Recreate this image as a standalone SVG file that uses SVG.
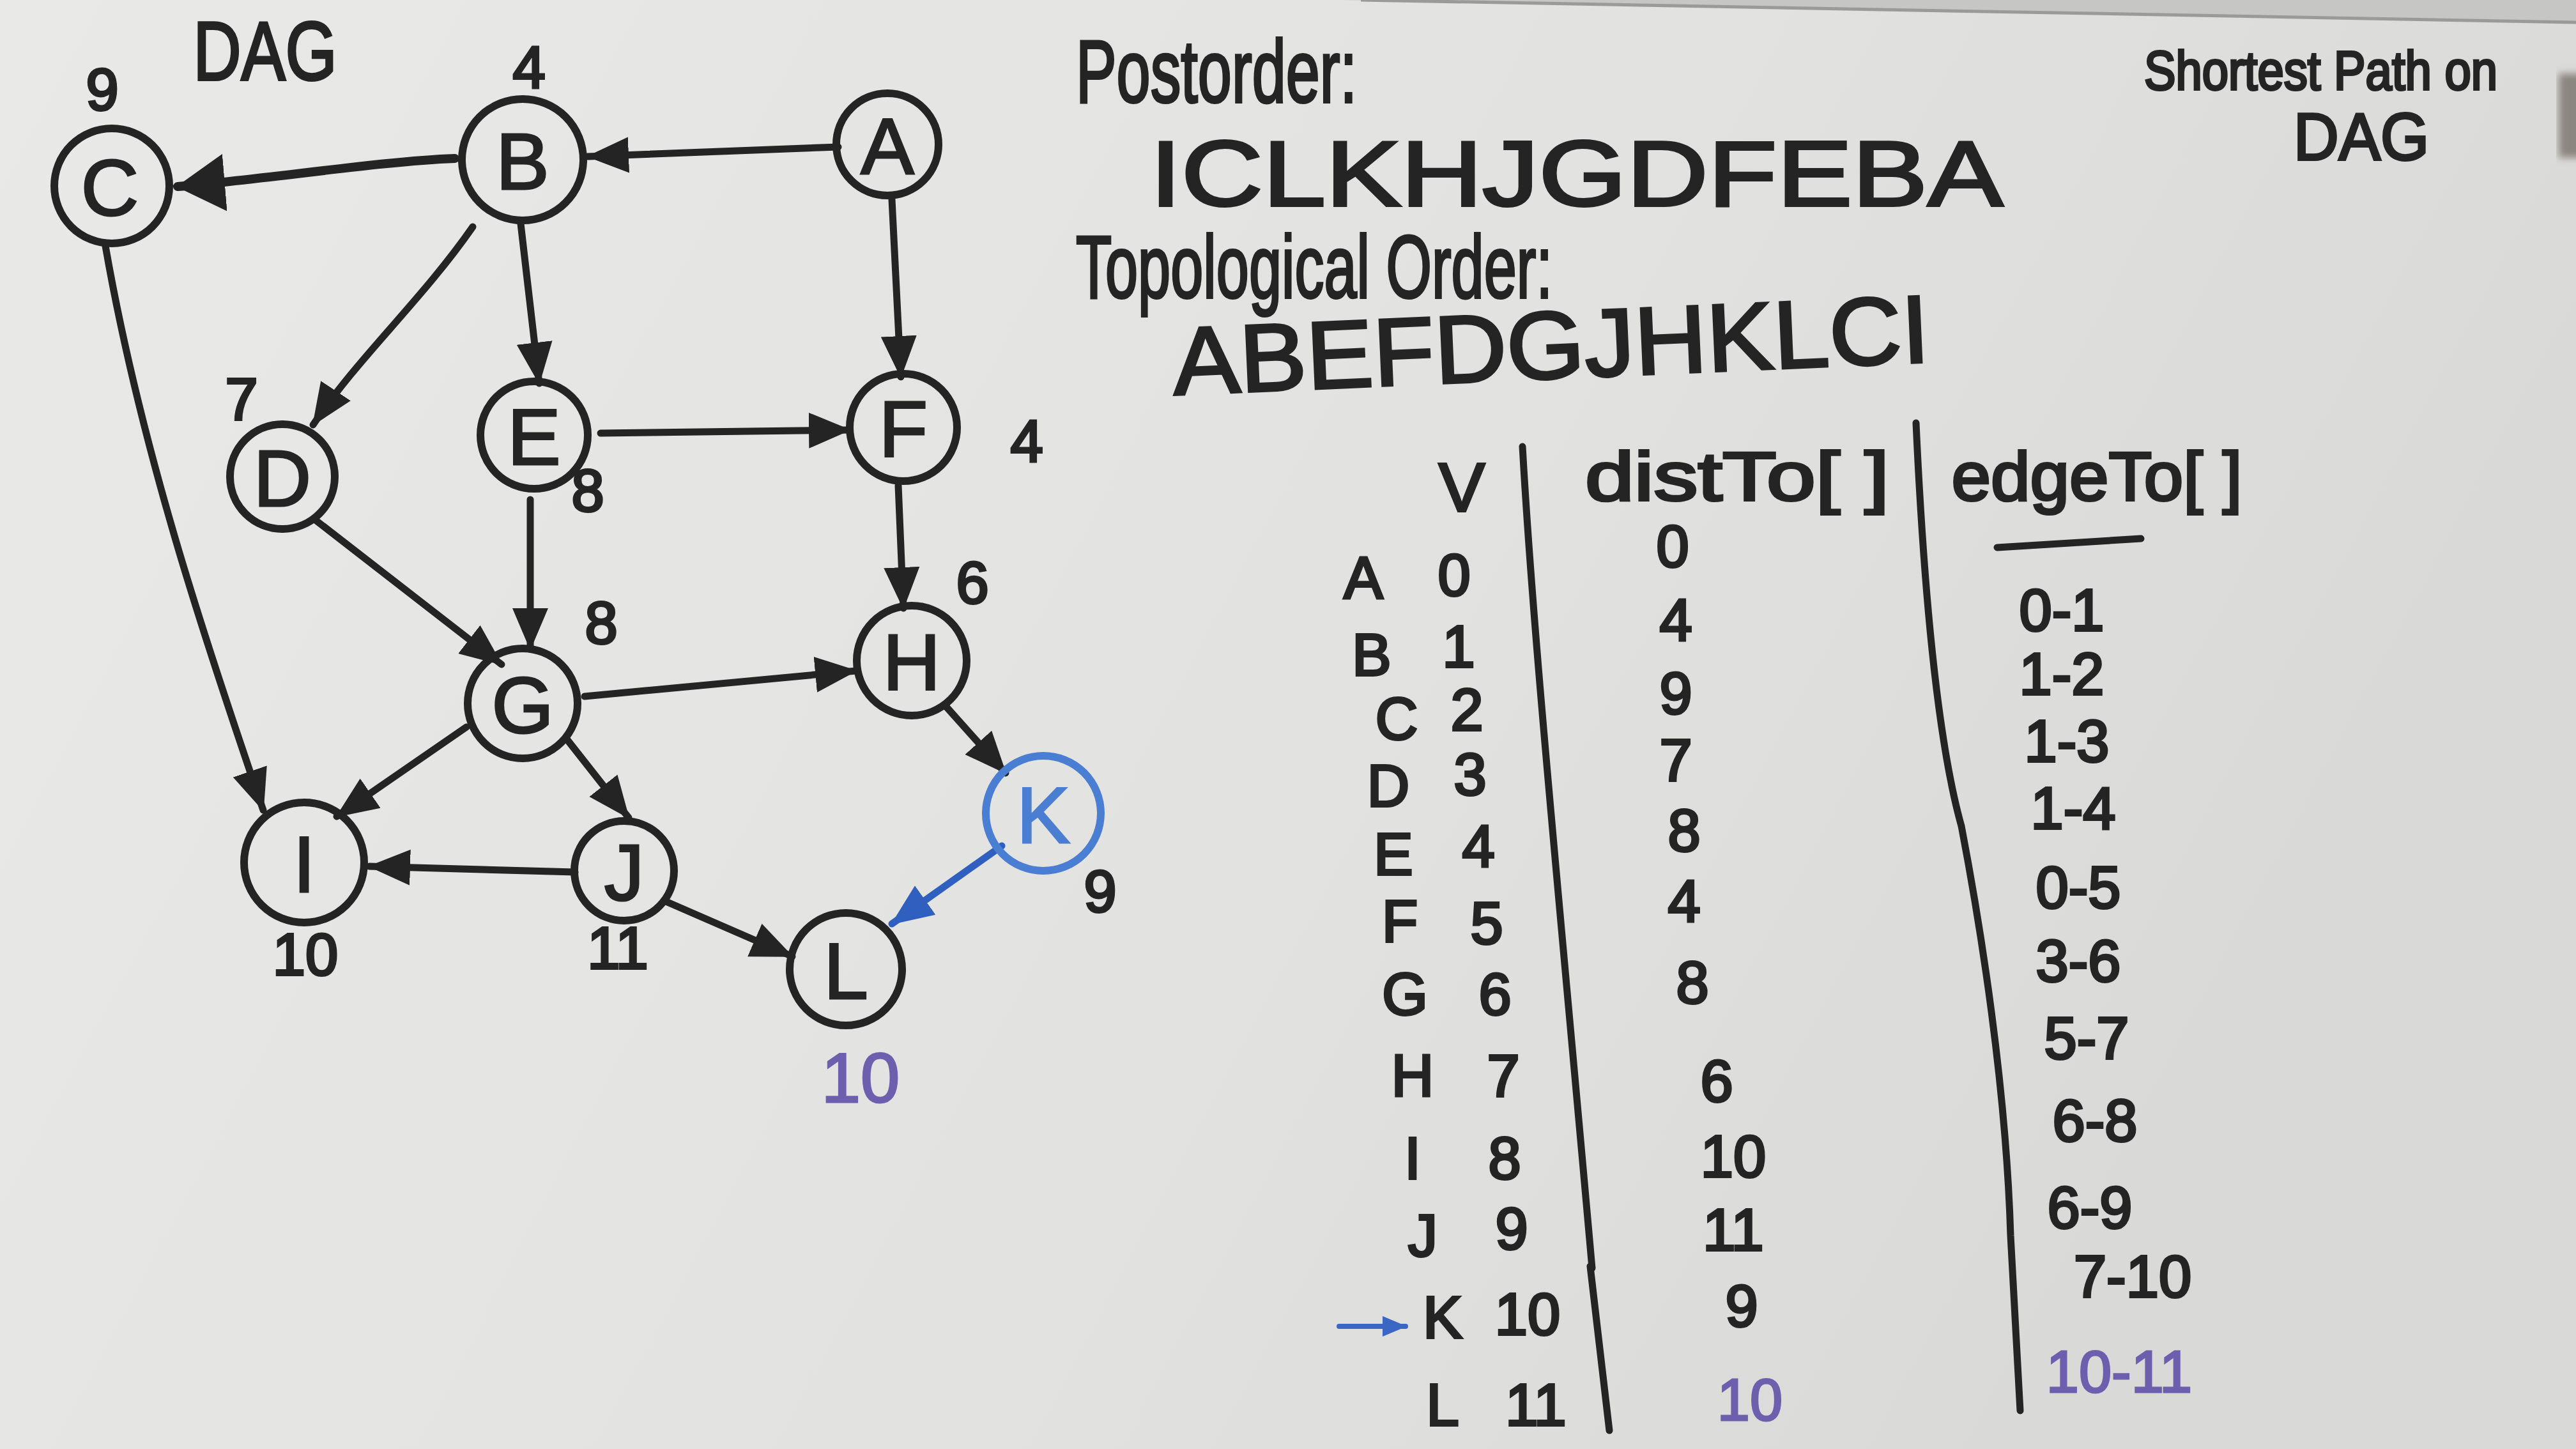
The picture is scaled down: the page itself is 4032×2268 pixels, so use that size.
<svg xmlns="http://www.w3.org/2000/svg" width="4032" height="2268" viewBox="0 0 4032 2268">
<style>
.ink{fill:none;stroke:#242424;stroke-width:11;stroke-linecap:round;stroke-linejoin:round}
.node circle{fill:none;stroke:#242424;stroke-width:12}
.node text{font-family:"Liberation Sans Narrow","Liberation Sans",sans-serif;font-size:125px;fill:#242424;stroke:#242424;stroke-width:3;text-anchor:middle;dominant-baseline:central}
.t{font-family:"Liberation Sans Narrow","Liberation Sans",sans-serif;fill:#242424;stroke:#242424;stroke-width:4}
.c{text-anchor:middle;dominant-baseline:central}
.num{font-size:92px}
.tb{font-size:92px}
.hd{font-size:108px}
.pur{fill:#6e5fae;stroke:#6e5fae}
.edge{fill:none;stroke:#242424;stroke-width:11;stroke-linecap:round;marker-end:url(#ah)}
</style>
<defs>
<linearGradient id="bg" x1="0" y1="0" x2="1" y2="0.3">
<stop offset="0" stop-color="#e9e9e8"/>
<stop offset="0.6" stop-color="#e2e2e0"/>
<stop offset="1" stop-color="#d9d9d7"/>
</linearGradient>
<filter id="blur"><feGaussianBlur stdDeviation="6"/></filter>
<marker id="ah" markerUnits="userSpaceOnUse" markerWidth="70" markerHeight="64" refX="64" refY="32" orient="auto">
<path d="M0,4 L66,32 L0,60 z" fill="#242424"/>
</marker>
<marker id="ahBig" markerUnits="userSpaceOnUse" markerWidth="80" markerHeight="90" refX="74" refY="45" orient="auto">
<path d="M0,0 L76,45 L0,90 z" fill="#242424"/>
</marker>
<marker id="ahBlue" markerUnits="userSpaceOnUse" markerWidth="70" markerHeight="64" refX="64" refY="32" orient="auto">
<path d="M0,4 L66,32 L0,60 z" fill="#2f5fbf"/>
</marker>
<marker id="ahBlueS" markerUnits="userSpaceOnUse" markerWidth="40" markerHeight="36" refX="36" refY="18" orient="auto">
<path d="M0,2 L38,18 L0,34 z" fill="#3a66c4"/>
</marker>
</defs>

<rect width="4032" height="2268" fill="url(#bg)"/>
<path d="M2100,0 L4032,0 L4032,36 L2400,6 Z" fill="#c6c6c4"/>
<path d="M2130,0 L4032,35" stroke="#9a9a98" stroke-width="5" fill="none"/>
<rect x="4005" y="115" width="40" height="132" fill="#8c8680" filter="url(#blur)"/>

<g id="connectors">
<path class="edge" style="marker-end:url(#ahBig);stroke-width:14" d="M712,248 C600,252 420,280 278,292"/>
<path class="edge" d="M1312,230 L920,245"/>
<path class="edge" d="M1396,312 L1410,590"/>
<path class="edge" d="M740,355 C660,470 560,560 490,665"/>
<path class="edge" d="M815,350 L844,600"/>
<path class="edge" d="M940,678 L1330,673"/>
<path class="edge" d="M165,385 C220,700 320,1000 412,1268"/>
<path class="edge" d="M495,815 L785,1040"/>
<path class="edge" d="M830,782 L830,1016"/>
<path class="edge" d="M1406,760 L1414,952"/>
<path class="edge" d="M915,1090 L1340,1050"/>
<path class="edge" d="M730,1138 L527,1278"/>
<path class="edge" d="M888,1158 L984,1280"/>
<path class="edge" d="M1480,1105 L1574,1210"/>
<path class="edge" d="M900,1365 L578,1356"/>
<path class="edge" d="M1040,1410 L1240,1497"/>
<path class="edge" style="stroke:#2f5fbf;marker-end:url(#ahBlue)" d="M1568,1324 L1396,1446"/>
</g>

<g id="node-A" class="node"><circle cx="1389" cy="226" r="80"/><text x="1389" y="228">A</text></g>
<g id="node-B" class="node"><circle cx="818" cy="250" r="95"/><text x="818" y="252">B</text></g>
<g id="node-C" class="node"><circle cx="175" cy="291" r="90"/><text x="172" y="293">C</text></g>
<g id="node-D" class="node"><circle cx="442" cy="746" r="82"/><text x="442" y="748">D</text></g>
<g id="node-E" class="node"><circle cx="836" cy="681" r="84"/><text x="836" y="683">E</text></g>
<g id="node-F" class="node"><circle cx="1414" cy="669" r="84"/><text x="1414" y="671">F</text></g>
<g id="node-G" class="node"><circle cx="818" cy="1101" r="86"/><text x="818" y="1103">G</text></g>
<g id="node-H" class="node"><circle cx="1427" cy="1034" r="86"/><text x="1427" y="1036">H</text></g>
<g id="node-I" class="node"><circle cx="476" cy="1350" r="94"/><text x="476" y="1352">I</text></g>
<g id="node-J" class="node"><circle cx="977" cy="1363" r="78"/><text x="977" y="1365">J</text></g>
<g id="node-K" class="node"><circle cx="1633" cy="1273" r="90" style="stroke:#4a7ed2"/><text x="1633" y="1275" style="fill:#4a7ed2;stroke:#4a7ed2">K</text></g>
<g id="node-L" class="node"><circle cx="1324" cy="1517" r="88"/><text x="1324" y="1519">L</text></g>

<g id="graph-labels">
<text class="t c" x="415" y="80" font-size="130" textLength="225" lengthAdjust="spacingAndGlyphs">DAG</text>
<text class="t c num" x="160" y="140">9</text>
<text class="t c num" x="828" y="105">4</text>
<text class="t c num" x="378" y="625">7</text>
<text class="t c num" x="920" y="768">8</text>
<text class="t c num" x="1607" y="690" font-size="105">4</text>
<text class="t c num" x="1522" y="912">6</text>
<text class="t c num" x="941" y="975">8</text>
<text class="t c num" x="1722" y="1395">9</text>
<text class="t c num" x="478" y="1494">10</text>
<text class="t c num" x="967" y="1484">11</text>
<text class="t c pur" x="1347" y="1686" font-size="110" style="stroke-width:3">10</text>
</g>

<g id="orders">
<text class="t" x="1684" y="160" font-size="140" textLength="440" lengthAdjust="spacingAndGlyphs">Postorder:</text>
<text class="t" x="1800" y="322" font-size="145" textLength="1335" lengthAdjust="spacingAndGlyphs">ICLKHJGDFEBA</text>
<text class="t" x="1684" y="466" font-size="140" textLength="746" lengthAdjust="spacingAndGlyphs">Topological Order:</text>
<text class="t" x="1838" y="618" font-size="150" textLength="1185" lengthAdjust="spacingAndGlyphs" transform="rotate(-2.5 1838 618)">ABEFDGJHKLCI</text>
<text class="t" x="3356" y="140" font-size="85" textLength="553" lengthAdjust="spacingAndGlyphs">Shortest Path on</text>
<text class="t" x="3590" y="250" font-size="104" textLength="212" lengthAdjust="spacingAndGlyphs">DAG</text>
</g>

<g id="table">
<path class="ink" d="M2383,699 C2400,1000 2440,1400 2492,1985"/>
<path class="ink" d="M2489,1982 L2519,2239"/>
<path class="ink" d="M2999,662 C3010,900 3030,1150 3070,1293 C3100,1450 3140,1700 3147,1934 L3162,2208"/>
<path class="ink" d="M3126,857 L3351,843"/>
<path class="ink" style="stroke:#3a66c4;stroke-width:8;marker-end:url(#ahBlueS)" d="M2096,2076 L2200,2076"/>

<text class="t c hd" x="2288" y="762">V</text>
<text class="t c hd" x="2719" y="745" textLength="476" lengthAdjust="spacingAndGlyphs">distTo[ ]</text>
<text class="t c hd" x="3282" y="745" textLength="455" lengthAdjust="spacingAndGlyphs">edgeTo[ ]</text>

<text class="t c tb" x="2134" y="905">A</text>
<text class="t c tb" x="2147" y="1025">B</text>
<text class="t c tb" x="2186" y="1125">C</text>
<text class="t c tb" x="2173" y="1230">D</text>
<text class="t c tb" x="2181" y="1337">E</text>
<text class="t c tb" x="2191" y="1442">F</text>
<text class="t c tb" x="2199" y="1556">G</text>
<text class="t c tb" x="2211" y="1684">H</text>
<text class="t c tb" x="2211" y="1813">I</text>
<text class="t c tb" x="2227" y="1934">J</text>
<text class="t c tb" x="2258" y="2062">K</text>
<text class="t c tb" x="2258" y="2199">L</text>

<text class="t c tb" x="2276" y="900">0</text>
<text class="t c tb" x="2283" y="1012">1</text>
<text class="t c tb" x="2296" y="1111">2</text>
<text class="t c tb" x="2301" y="1212">3</text>
<text class="t c tb" x="2314" y="1324">4</text>
<text class="t c tb" x="2327" y="1445">5</text>
<text class="t c tb" x="2340" y="1556">6</text>
<text class="t c tb" x="2353" y="1684">7</text>
<text class="t c tb" x="2355" y="1813">8</text>
<text class="t c tb" x="2366" y="1923">9</text>
<text class="t c tb" x="2391" y="2057">10</text>
<text class="t c tb" x="2404" y="2199">11</text>

<text class="t c tb" x="2618" y="855">0</text>
<text class="t c tb" x="2623" y="970">4</text>
<text class="t c tb" x="2623" y="1085">9</text>
<text class="t c tb" x="2623" y="1190">7</text>
<text class="t c tb" x="2636" y="1300">8</text>
<text class="t c tb" x="2636" y="1410">4</text>
<text class="t c tb" x="2649" y="1538">8</text>
<text class="t c tb" x="2687" y="1692">6</text>
<text class="t c tb" x="2713" y="1810">10</text>
<text class="t c tb" x="2713" y="1925">11</text>
<text class="t c tb" x="2726" y="2044">9</text>
<text class="t c tb pur" x="2739" y="2191" style="stroke-width:3">10</text>

<text class="t c tb" x="3227" y="955">0-1</text>
<text class="t c tb" x="3227" y="1055">1-2</text>
<text class="t c tb" x="3235" y="1160">1-3</text>
<text class="t c tb" x="3245" y="1265">1-4</text>
<text class="t c tb" x="3253" y="1389">0-5</text>
<text class="t c tb" x="3253" y="1504">3-6</text>
<text class="t c tb" x="3266" y="1625">5-7</text>
<text class="t c tb" x="3279" y="1754">6-8</text>
<text class="t c tb" x="3271" y="1890">6-9</text>
<text class="t c tb" x="3338" y="1998">7-10</text>
<text class="t c tb pur" x="3317" y="2147" style="stroke-width:3">10-11</text>
</g>
</svg>
